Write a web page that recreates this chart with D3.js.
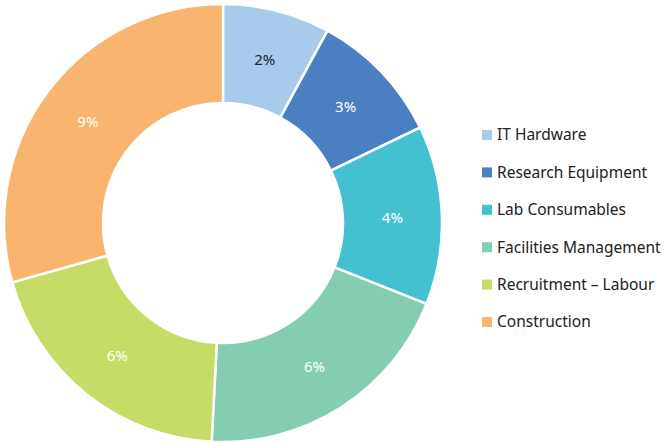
<!DOCTYPE html>
<html>
<head>
<meta charset="utf-8">
<script src="https://cdn.jsdelivr.net/npm/d3@7"></script>
<style>
  body { margin: 0; background: #fff; }
  svg { display: block; font-family: "Source Sans Pro", "Noto Sans", sans-serif; }
</style>
</head>
<body>
<div class="chart"></div>
<script>
// Data
const categories = ["IT Hardware", "Research Equipment", "Lab Consumables", "Facilities Management", "Recruitment – Labour", "Construction"];
const values = [2.4, 3.0, 4.0, 6.0, 6.0, 8.9];
const colors = ["#a9cbeb", "#4a80c2", "#44c1d0", "#85cdb1", "#c5dc67", "#f9b46f"];
const labelColors = ["#222", "#fff", "#fff", "#fff", "#fff", "#fff"];

const width = 667, height = 443;
const cx = 223, cy = 223;
const outerR = 219, innerR = 120;

const svg = d3.select(".chart")
    .append("svg")
    .attr("width", width)
    .attr("height", height);

const data = categories.map((c, i) => ({ name: c, value: values[i], i: i }));

const pie = d3.pie()
    .sort(null)
    .value(d => d.value);

const arc = d3.arc()
    .innerRadius(innerR)
    .outerRadius(outerR);

const labelArc = d3.arc()
    .innerRadius((innerR + outerR) / 2)
    .outerRadius((innerR + outerR) / 2);

const g = svg.append("g")
    .attr("transform", `translate(${cx},${cy})`);

const arcs = pie(data);

g.selectAll("path")
    .data(arcs)
    .enter()
    .append("path")
    .attr("d", arc)
    .attr("fill", d => colors[d.data.i])
    .attr("stroke", "#fff")
    .attr("stroke-width", 2.5);

g.selectAll(".slice-label")
    .data(arcs)
    .enter()
    .append("text")
    .attr("class", "slice-label")
    .attr("transform", d => `translate(${labelArc.centroid(d)})`)
    .attr("text-anchor", "middle")
    .attr("dy", "0.4em")
    .attr("fill", d => labelColors[d.data.i])
    .style("font-size", "15px")
    .text(d => Math.round(d.data.value) + "%");

// Legend
const legend = svg.append("g")
    .attr("transform", "translate(482,135)");

const rowY = d3.scalePoint()
    .domain(categories)
    .range([0, 187]);

const rows = legend.selectAll(".row")
    .data(categories)
    .enter()
    .append("g")
    .attr("class", "row")
    .attr("transform", d => `translate(0,${rowY(d)})`);

rows.append("rect")
    .attr("x", 0)
    .attr("y", -5)
    .attr("width", 10)
    .attr("height", 10)
    .attr("fill", (d, i) => colors[i]);

rows.append("text")
    .attr("x", 15)
    .attr("dy", "0.35em")
    .attr("fill", "#222")
    .style("font-size", "15.5px")
    .text(d => d);
</script>
</body>
</html>
